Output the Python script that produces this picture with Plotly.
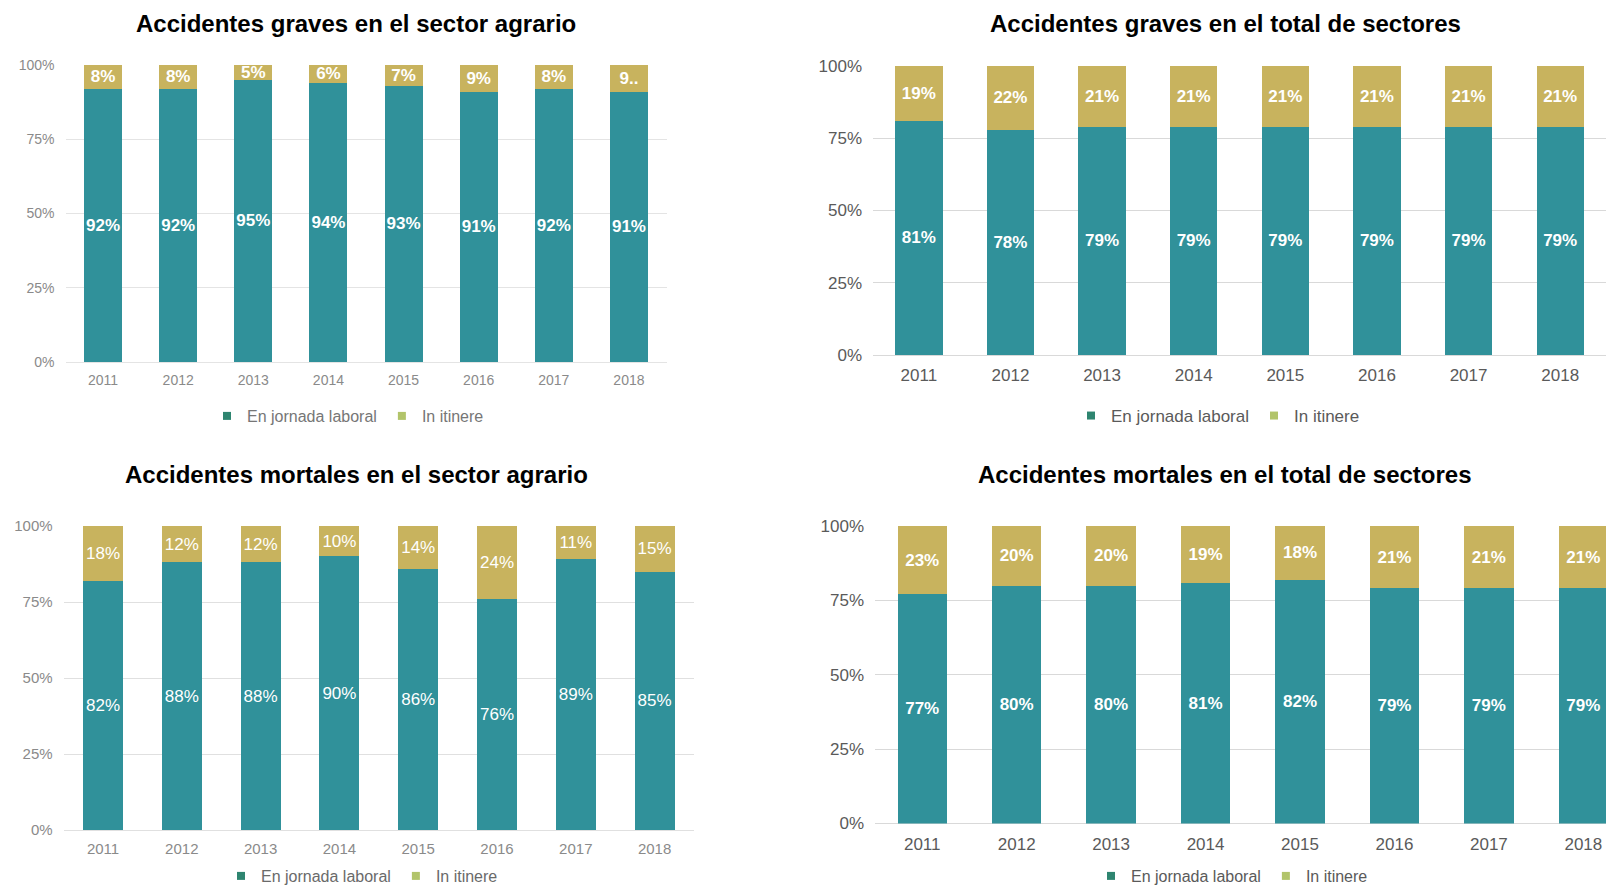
import plotly.graph_objects as go

years = ["2011", "2012", "2013", "2014", "2015", "2016", "2017", "2018"]

# porcentaje "En jornada laboral" / "In itinere" por panel
graves_agrario_jornada = [92, 92, 95, 94, 93, 91, 92, 91]
graves_agrario_itinere = [8, 8, 5, 6, 7, 9, 8, 9]
graves_total_jornada = [81, 78, 79, 79, 79, 79, 79, 79]
graves_total_itinere = [19, 22, 21, 21, 21, 21, 21, 21]
mortales_agrario_jornada = [82, 88, 88, 90, 86, 76, 89, 85]
mortales_agrario_itinere = [18, 12, 12, 10, 14, 24, 11, 15]
mortales_total_jornada = [77, 80, 80, 81, 82, 79, 79, 79]
mortales_total_itinere = [23, 20, 20, 19, 18, 21, 21, 21]

titles = [
    "Accidentes graves en el sector agrario",
    "Accidentes graves en el total de sectores",
    "Accidentes mortales en el sector agrario",
    "Accidentes mortales en el total de sectores",
]
series_names = ["En jornada laboral", "In itinere"]
y_ticks = [0, 25, 50, 75, 100]
y_tick_text = ["0%", "25%", "50%", "75%", "100%"]

TEAL = "#30919A"
GOLD = "#C8B35E"
LEG_TEAL = "#2E8570"
LEG_GOLD = "#B2C46A"
FONT = "Liberation Sans, Arial, sans-serif"

# la página tiene 8px de margen en el body: la figura se hace 16px menor
OFF = 8
W, H = 1614 - 2 * OFF, 896 - 2 * OFF


def px_x(v):
    return min(1.0, (v - OFF) / W)


def px_y(v):
    return 1 - (v - OFF) / H


def labels(vals):
    return [f"{v}%" for v in vals]


# posiciones en pixeles de la ventana
panels = [
    dict(jor=graves_agrario_jornada, iti=graves_agrario_itinere,
         xdom=[65.5, 666.5], ydom=[362, 65], xr=[-0.5, 7.5], width=0.505,
         tick=14, tickcol="#8a8a8a", lab=17, bold=True, grid="#e4e4e4",
         title_xy=(356, 23), leg_xy=(348, 416), legsize=16, legcol="#767676"),
    dict(jor=graves_total_jornada, iti=graves_total_itinere,
         xdom=[873, 1606], ydom=[355, 66], xr=[-0.5, 7.5], width=0.517,
         tick=17, tickcol="#5a5a5a", lab=17, bold=True, grid="#d9d9d9",
         title_xy=(1225, 23), leg_xy=(1218, 416), legsize=17, legcol="#5a5a5a"),
    dict(jor=mortales_agrario_jornada, iti=mortales_agrario_itinere,
         xdom=[63.6, 694], ydom=[830, 526], xr=[-0.5, 7.5], width=0.51,
         tick=15, tickcol="#8a8a8a", lab=17, bold=False, grid="#e0e0e0",
         title_xy=(356, 474), leg_xy=(362, 876), legsize=16, legcol="#6a6a6a"),
    dict(jor=mortales_total_jornada, iti=mortales_total_itinere,
         xdom=[875, 1606], ydom=[823.5, 526], xr=[-0.5, 7.24], width=0.523,
         tick=17, tickcol="#5a5a5a", lab=17, bold=True, grid="#d9d9d9",
         title_xy=(1225, 474), leg_xy=(1232, 876), legsize=16, legcol="#5a5a5a"),
]

fig = go.Figure()
layout = {}
annotations = []

for i, p in enumerate(panels):
    n = "" if i == 0 else str(i + 1)
    xa, ya = "x" + n, "y" + n
    leg = "legend" + n
    weight = "bold" if p["bold"] else "normal"

    itinere_text = labels(p["iti"])
    if i == 0:
        itinere_text[-1] = "9.."  # etiqueta recortada en el original

    for name, vals, col, txt in [
        (series_names[0], p["jor"], TEAL, labels(p["jor"])),
        (series_names[1], p["iti"], GOLD, itinere_text),
    ]:
        fig.add_trace(go.Bar(
            x=years, y=vals, name=name, xaxis=xa, yaxis=ya,
            marker=dict(color=col, line=dict(width=0)),
            width=p["width"], text=txt, textposition="inside",
            insidetextanchor="middle", constraintext="none", textangle=0,
            textfont=dict(family=FONT, size=p["lab"], color="white", weight=weight),
            showlegend=False, hoverinfo="skip",
        ))

    # entradas de leyenda
    for name, col in [(series_names[0], LEG_TEAL), (series_names[1], LEG_GOLD)]:
        fig.add_trace(go.Scatter(
            x=[None], y=[None], mode="markers", name=name, xaxis=xa, yaxis=ya,
            marker=dict(symbol="square", size=8, color=col),
            legend=leg, showlegend=True,
        ))

    layout["xaxis" + n] = dict(
        domain=[px_x(p["xdom"][0]), px_x(p["xdom"][1])], range=p["xr"],
        anchor=ya, type="category", showgrid=False, showline=False,
        ticks="", ticklabelstandoff=8, automargin=False,
        tickfont=dict(family=FONT, size=p["tick"], color=p["tickcol"]),
    )
    layout["yaxis" + n] = dict(
        domain=[px_y(p["ydom"][0]), px_y(p["ydom"][1])], range=[0, 100],
        anchor=xa, tickvals=y_ticks, ticktext=y_tick_text,
        showgrid=True, gridcolor=p["grid"], gridwidth=1,
        zeroline=True, zerolinecolor=p["grid"], zerolinewidth=1,
        showline=False, ticks="", ticklabelstandoff=10, automargin=False,
        tickfont=dict(family=FONT, size=p["tick"], color=p["tickcol"]),
    )
    layout[leg] = dict(
        orientation="h", x=px_x(p["leg_xy"][0]), y=px_y(p["leg_xy"][1]),
        xanchor="center", yanchor="middle", itemwidth=30, traceorder="normal",
        font=dict(family=FONT, size=p["legsize"], color=p["legcol"]),
        bgcolor="rgba(0,0,0,0)", tracegroupgap=0,
    )
    annotations.append(dict(
        text=titles[i], xref="paper", yref="paper",
        x=px_x(p["title_xy"][0]), y=px_y(p["title_xy"][1]),
        xanchor="center", yanchor="middle", showarrow=False,
        font=dict(family=FONT, size=24, color="black", weight="bold"),
    ))

fig.update_layout(
    width=W, height=H, margin=dict(l=0, r=0, t=0, b=0, autoexpand=False),
    paper_bgcolor="white", plot_bgcolor="white",
    barmode="stack", annotations=annotations, **layout,
)

fig.write_html("out.html")
